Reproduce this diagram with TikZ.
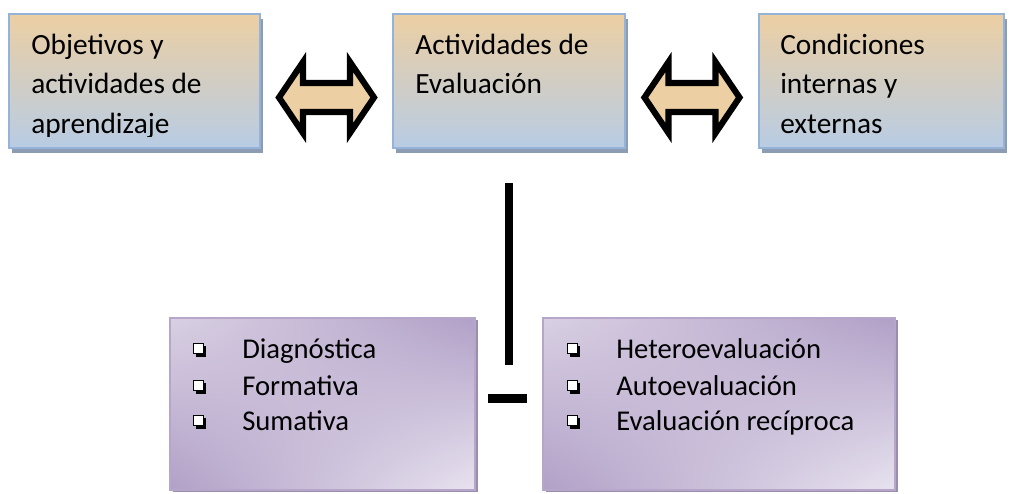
\documentclass[tikz,border=0pt]{standalone}
\usepackage{fontspec}
\setmainfont{Carlito}
\usetikzlibrary{shadows,shadings,calc}
\definecolor{boxtan}{HTML}{ECCFA3}
\definecolor{boxblue}{HTML}{B8CCE4}
\definecolor{boxedge}{HTML}{95B3D7}
\definecolor{boxshadow}{HTML}{8C9CB2}
\definecolor{purdark}{HTML}{B1A0C7}
\definecolor{purlight}{HTML}{E8E3EF}
\definecolor{purmid}{HTML}{D9D0E3}
\definecolor{puredge}{HTML}{B6A6CA}
\definecolor{purshadow}{HTML}{9B8DAE}
\definecolor{arrowfill}{HTML}{ECCFA3}
\tikzset{
  topbox/.style={draw=boxedge, line width=1.2pt, top color=boxtan, bottom color=boxblue,
    inner sep=0pt, minimum height=100.5pt,
    drop shadow={shadow xshift=2.4pt, shadow yshift=-3.4pt, fill=boxshadow, opacity=1}},
  lowbox/.style={draw=puredge, line width=1pt,
    upper left=purmid, upper right=purdark, lower left=purdark, lower right=purlight,
    inner sep=0pt, minimum height=129pt,
    drop shadow={shadow xshift=2pt, shadow yshift=-1.5pt, fill=purshadow, opacity=1}},
  toptext/.style={anchor=base west, inner sep=0pt, font=\fontsize{22}{30}\selectfont},
  lowtext/.style={anchor=base west, inner sep=0pt, font=\fontsize{21.5}{27}\selectfont},
  barline/.style={line width=6pt, draw=black},
  pics/dblarrow/.style={code={
    \draw[line width=4.6pt, line join=miter, draw=black, fill=arrowfill]
      (-47.5,0) -- (-23.5,-35.5) -- (-23.5,-14.5) -- (23.5,-14.5) -- (23.5,-35.5)
      -- (47.5,0) -- (23.5,35.5) -- (23.5,14.5) -- (-23.5,14.5) -- (-23.5,35.5) -- cycle;
  }}
}
\newcommand{\bulsq}[2]{%
  \fill[black] (#1+2.5,#2-12.5) rectangle (#1+13,#2-1.5);
  \filldraw[fill=white, draw=black, line width=0.75pt] (#1+0.5,#2-14.5) rectangle (#1+10,#2-5);
}
\begin{document}
\begin{tikzpicture}[x=0.75pt,y=-0.75pt]
\useasboundingbox[fill=white] (0,0) rectangle (1009,493);

% top boxes
\node[topbox, minimum width=188.25pt] (b1) at (134.5,81) {};
\node[topbox, minimum width=174pt] (b2) at (509,81) {};
\node[topbox, minimum width=183.75pt] (b3) at (881.5,81) {};

\begin{scope}
\clip (0,0) rectangle (1009,136.5);
\node[toptext] (t1a) at (31,54) {Objetivos y};
\node[toptext] (t1b) at (31,93.5) {actividades de};
\node[toptext] (t1c) at (31,133) {aprendizaje};
\end{scope}
\node[toptext] (t2a) at (415,54) {Actividades de};
\node[toptext] (t2b) at (415,93.5) {Evaluación};
\node[toptext] (t3a) at (780,54) {Condiciones};
\node[toptext] (t3b) at (780,93.5) {internas y};
\node[toptext] (t3c) at (780,133) {externas};

% double arrows
\coordinate (a1) at ($(b1.east)!0.5!(b2.west)+(0,16.5)$);
\coordinate (a2) at ($(b2.east)!0.5!(b3.west)+(0,16.5)$);
\pic at (a1) {dblarrow};
\pic at (a2) {dblarrow};

% lines
\coordinate (v1) at (509,183);
\coordinate (v2) at (509,365);
\draw[barline] (v1) -- (v2);
\coordinate (h1) at (488,398.5);
\coordinate (h2) at (527,398.5);
\draw[barline, line width=6.75pt] (h1) -- (h2);

% bottom boxes
\node[lowbox, minimum width=228.75pt] (b4) at (322.5,404) {};
\node[lowbox, minimum width=264pt] (b5) at (719,404) {};

\bulsq{193}{358}
\bulsq{193}{395}
\bulsq{193}{430}
\node[lowtext] (t4a) at (242,358) {Diagnóstica};
\node[lowtext] (t4b) at (242,395) {Formativa};
\node[lowtext] (t4c) at (242,430) {Sumativa};

\bulsq{567}{358}
\bulsq{567}{395}
\bulsq{567}{430}
\node[lowtext] (t5a) at (616,358) {Heteroevaluación};
\node[lowtext] (t5b) at (616,395) {Autoevaluación};
\node[lowtext] (t5c) at (616,430) {Evaluación recíproca};
\end{tikzpicture}
\end{document}
